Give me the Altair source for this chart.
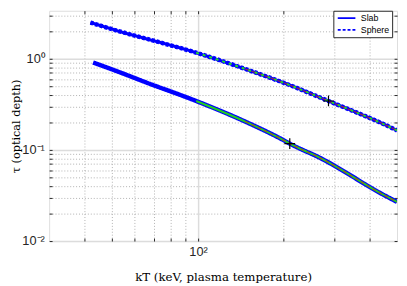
import altair as alt
import pandas as pd

# ---- data ----
slab_kt = [42.8, 52.3, 66.3, 98.5, 146.4, 201.1, 210, 235.6, 251, 454.8, 500]
slab_tau = [0.910, 0.723, 0.544, 0.344, 0.2045, 0.1263, 0.1172, 0.0985, 0.0903, 0.0314, 0.0269]
sphere_kt = [41.9, 52.3, 66.3, 98.5, 146.4, 201.1, 287.2, 444, 500]
sphere_tau = [2.494, 2.020, 1.649, 1.166, 0.773, 0.541, 0.344, 0.1946, 0.1637]
marker_kt = [210, 287.2]
marker_tau = [0.1172, 0.344]
series_names = ["Slab", "Sphere"]

x_minor = [40, 50, 60, 70, 80, 90, 200, 300, 400]
x_major = [100]
y_minor = [0.02, 0.03, 0.04, 0.05, 0.06, 0.07, 0.08, 0.09,
           0.2, 0.3, 0.4, 0.5, 0.6, 0.7, 0.8, 0.9, 2, 3]
y_major = [0.01, 0.1, 1]
x_domain = [30, 500]
y_domain = [0.01, 3.36]

W, H = 355, 235

df = pd.DataFrame(
    [{"series": "Slab", "kt": k, "tau": t} for k, t in zip(slab_kt, slab_tau)]
    + [{"series": "Sphere", "kt": k, "tau": t} for k, t in zip(sphere_kt, sphere_tau)]
)
mk = pd.DataFrame({"kt": marker_kt, "tau": marker_tau})
dummy = pd.DataFrame({"kt": x_domain, "tau": y_domain})

xs = alt.Scale(type="log", domain=x_domain, nice=False)
ys = alt.Scale(type="log", domain=y_domain, nice=False)
X = alt.X("kt:Q", scale=xs, axis=None)
Y = alt.Y("tau:Q", scale=ys, axis=None)


def axis_layer(xaxis, yaxis):
    return alt.Chart(dummy).mark_point(opacity=0).encode(
        x=alt.X("kt:Q", scale=xs, axis=xaxis),
        y=alt.Y("tau:Q", scale=ys, axis=yaxis),
    )


no = dict(labels=False, ticks=False, domain=False, title=None)

grid_minor = axis_layer(
    alt.Axis(orient="bottom", values=x_minor, grid=True, gridDash=[1, 2],
             gridColor="#b0b0b0", gridWidth=1, **no),
    alt.Axis(orient="left", values=y_minor, grid=True, gridDash=[1, 2],
             gridColor="#b0b0b0", gridWidth=1, **no),
)
grid_major = axis_layer(
    alt.Axis(orient="bottom", values=x_major, grid=True,
             gridColor="#dcdcdc", gridWidth=1.5, **no),
    alt.Axis(orient="left", values=y_major, grid=True,
             gridColor="#dcdcdc", gridWidth=1.5, **no),
)

label_axes = axis_layer(
    alt.Axis(orient="bottom", values=[100], labelExpr="'10²'", ticks=False,
             domain=False, grid=False, labelFont="Liberation Sans",
             labelFontSize=13, labelColor="#262626", labelPadding=5,
             title="kT (keV, plasma temperature)", titleFont="DejaVu Serif",
             titleFontSize=12, titleFontWeight="normal", titleColor="black",
             titlePadding=13),
    alt.Axis(orient="left", values=y_major,
             labelExpr="datum.value == 1 ? '10⁰' : (datum.value > 0.05 ? '10⁻¹' : '10⁻²')",
             ticks=False, domain=False, grid=False, labelFont="Liberation Sans",
             labelFontSize=13, labelColor="#262626", labelPadding=5,
             labelOverlap=False, labelBound=False,
             title="τ (optical depth)", titleFont="DejaVu Serif",
             titleFontSize=11.5, titleFontWeight="normal", titleColor="black",
             titlePadding=0),
)

tick_style = dict(labels=False, domain=False, grid=False, title=None,
                  ticks=True, tickSize=3, tickColor="#262626", tickWidth=1)
ticks_a = axis_layer(
    alt.Axis(orient="top", offset=-H, values=x_minor + x_major, **tick_style),
    alt.Axis(orient="right", offset=-W, values=y_minor + y_major, **tick_style),
)
ticks_b = axis_layer(
    alt.Axis(orient="bottom", offset=-H, values=x_minor + x_major, **tick_style),
    alt.Axis(orient="left", offset=-W, values=y_minor + y_major, **tick_style),
)

legend = alt.Legend(
    title=None, orient="none", legendX=290, legendY=0, fillColor="white",
    strokeColor="#262626", padding=2, symbolType="M-2,0H2", symbolSize=81,
    symbolStrokeWidth=2, symbolStrokeColor="#0000ff", symbolOffset=6,
    labelFont="Liberation Sans", labelFontSize=9, labelColor="black",
    rowPadding=1, labelOffset=9,
)

# solid base under the dashed sphere band
sphere_base = alt.Chart(df).transform_filter("datum.series == 'Sphere'").mark_line(
    strokeWidth=3.2, color="#0000ff", clip=True, interpolate="monotone"
).encode(x=X, y=Y)

blue = alt.Chart(df).mark_line(clip=True, strokeWidth=4.5, interpolate="monotone").encode(
    x=X, y=Y,
    color=alt.Color("series:N", scale=alt.Scale(domain=series_names,
                    range=["#0000ff", "#0000ff"]), legend=legend),
    strokeDash=alt.StrokeDash("series:N", scale=alt.Scale(domain=series_names,
                              range=[[1, 0], [3, 2]]), legend=legend),
    detail="series:N",
)

green_slab = alt.Chart(df).transform_filter(
    "datum.series == 'Slab' && datum.kt >= 98").mark_line(
    strokeWidth=2, color="#22cc22", clip=True, interpolate="monotone"
).encode(x=X, y=Y)
green_sphere = alt.Chart(df).transform_filter(
    "datum.series == 'Sphere' && datum.kt >= 80").mark_line(
    strokeWidth=2, color="#22dd22", strokeDash=[3, 4], clip=True, interpolate="monotone"
).encode(x=X, y=Y)
red = alt.Chart(df).transform_filter("datum.kt >= 140").mark_line(
    strokeWidth=1.2, color="#cc3311", strokeDash=[4, 3], opacity=0.75, clip=True,
    interpolate="monotone"
).encode(x=X, y=Y, detail="series:N")

markers = alt.Chart(mk).mark_point(
    shape="M-1,0L1,0M0,-1L0,1", size=120, filled=False, color="black",
    strokeWidth=1.2, opacity=1
).encode(x=X, y=Y)

chart = alt.layer(
    grid_minor, grid_major, label_axes, sphere_base, blue, green_slab,
    green_sphere, red, markers, ticks_a, ticks_b
).resolve_axis(x="independent", y="independent").properties(
    width=W, height=H,
    autosize=alt.AutoSizeParams(type="none"),
    padding={"left": 42, "top": 0, "right": 2, "bottom": 41},
).configure_view(stroke="#404040", strokeWidth=1).configure(background="white")

chart.save("out.html", embed_options={"renderer": "svg", "actions": False})
